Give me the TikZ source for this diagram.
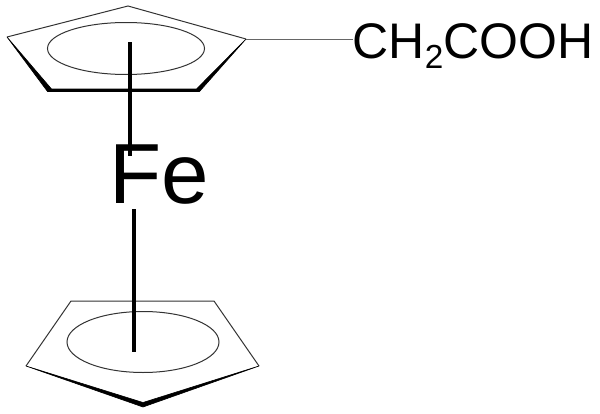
\documentclass[tikz,border=0pt]{standalone}
\usepackage{fontspec}
\setmainfont{Liberation Sans}
\tikzset{
  px/.style={x=0.75pt,y=-0.75pt},
  thinline/.style={draw=black!80,line width=0.75pt,line join=miter},
  hapto/.style={draw=black,line width=3pt},
  wedgefill/.style={fill=black,draw=black,line width=0.45pt,line join=round},
  label/.style={inner sep=0pt,anchor=base west,text=black}
}
\begin{document}
\begin{tikzpicture}[px]
\useasboundingbox (0,0) rectangle (600,414);
% top ring
\coordinate (tA) at (7,37);
\coordinate (tB) at (128,6);
\coordinate (tC) at (246,39);
\coordinate (tD) at (199,90);
\coordinate (tE) at (48,90);
\draw[thinline] (tA) -- (tB) -- (tC);
\filldraw[wedgefill] (tA) -- (47.5,91.5) -- (199.5,91.5) -- (tC) -- (196.5,89) -- (51.5,89) -- cycle;
\draw[thinline] (126,48.5) ellipse [x radius=78.5,y radius=26];
% bottom ring
\coordinate (bA) at (26,366);
\coordinate (bB) at (71,301);
\coordinate (bC) at (214,301);
\coordinate (bD) at (259,366);
\coordinate (bE) at (143,407);
\draw[thinline] (bA) -- (bB) -- (bC) -- (bD);
\filldraw[wedgefill] (bA) -- (bE) -- (bD) -- (143,402.5) -- cycle;
\draw[thinline] (143,342) ellipse [x radius=76,y radius=30.5];
% labels
\node[label,font=\fontsize{64pt}{64pt}\selectfont] (fe) at (109,203) {Fe};
\node[label,font=\fontsize{37.5pt}{38pt}\selectfont] (acid) at (352.5,58) {CH\raisebox{-7.5pt}{\fontsize{25pt}{25pt}\selectfont 2}COOH};
% connectors
\coordinate (tCentre) at (130,42);
\coordinate (feTop) at (130,156);
\coordinate (feBottom) at (134.3,209);
\coordinate (bCentre) at (134.3,352);
\coordinate (acidEnd) at (353,39);
\draw[hapto] (tCentre) -- (feTop);
\draw[hapto] (feBottom) -- (bCentre);
\draw[thinline,draw=black!60] (tC) -- (acidEnd);
\end{tikzpicture}
\end{document}
